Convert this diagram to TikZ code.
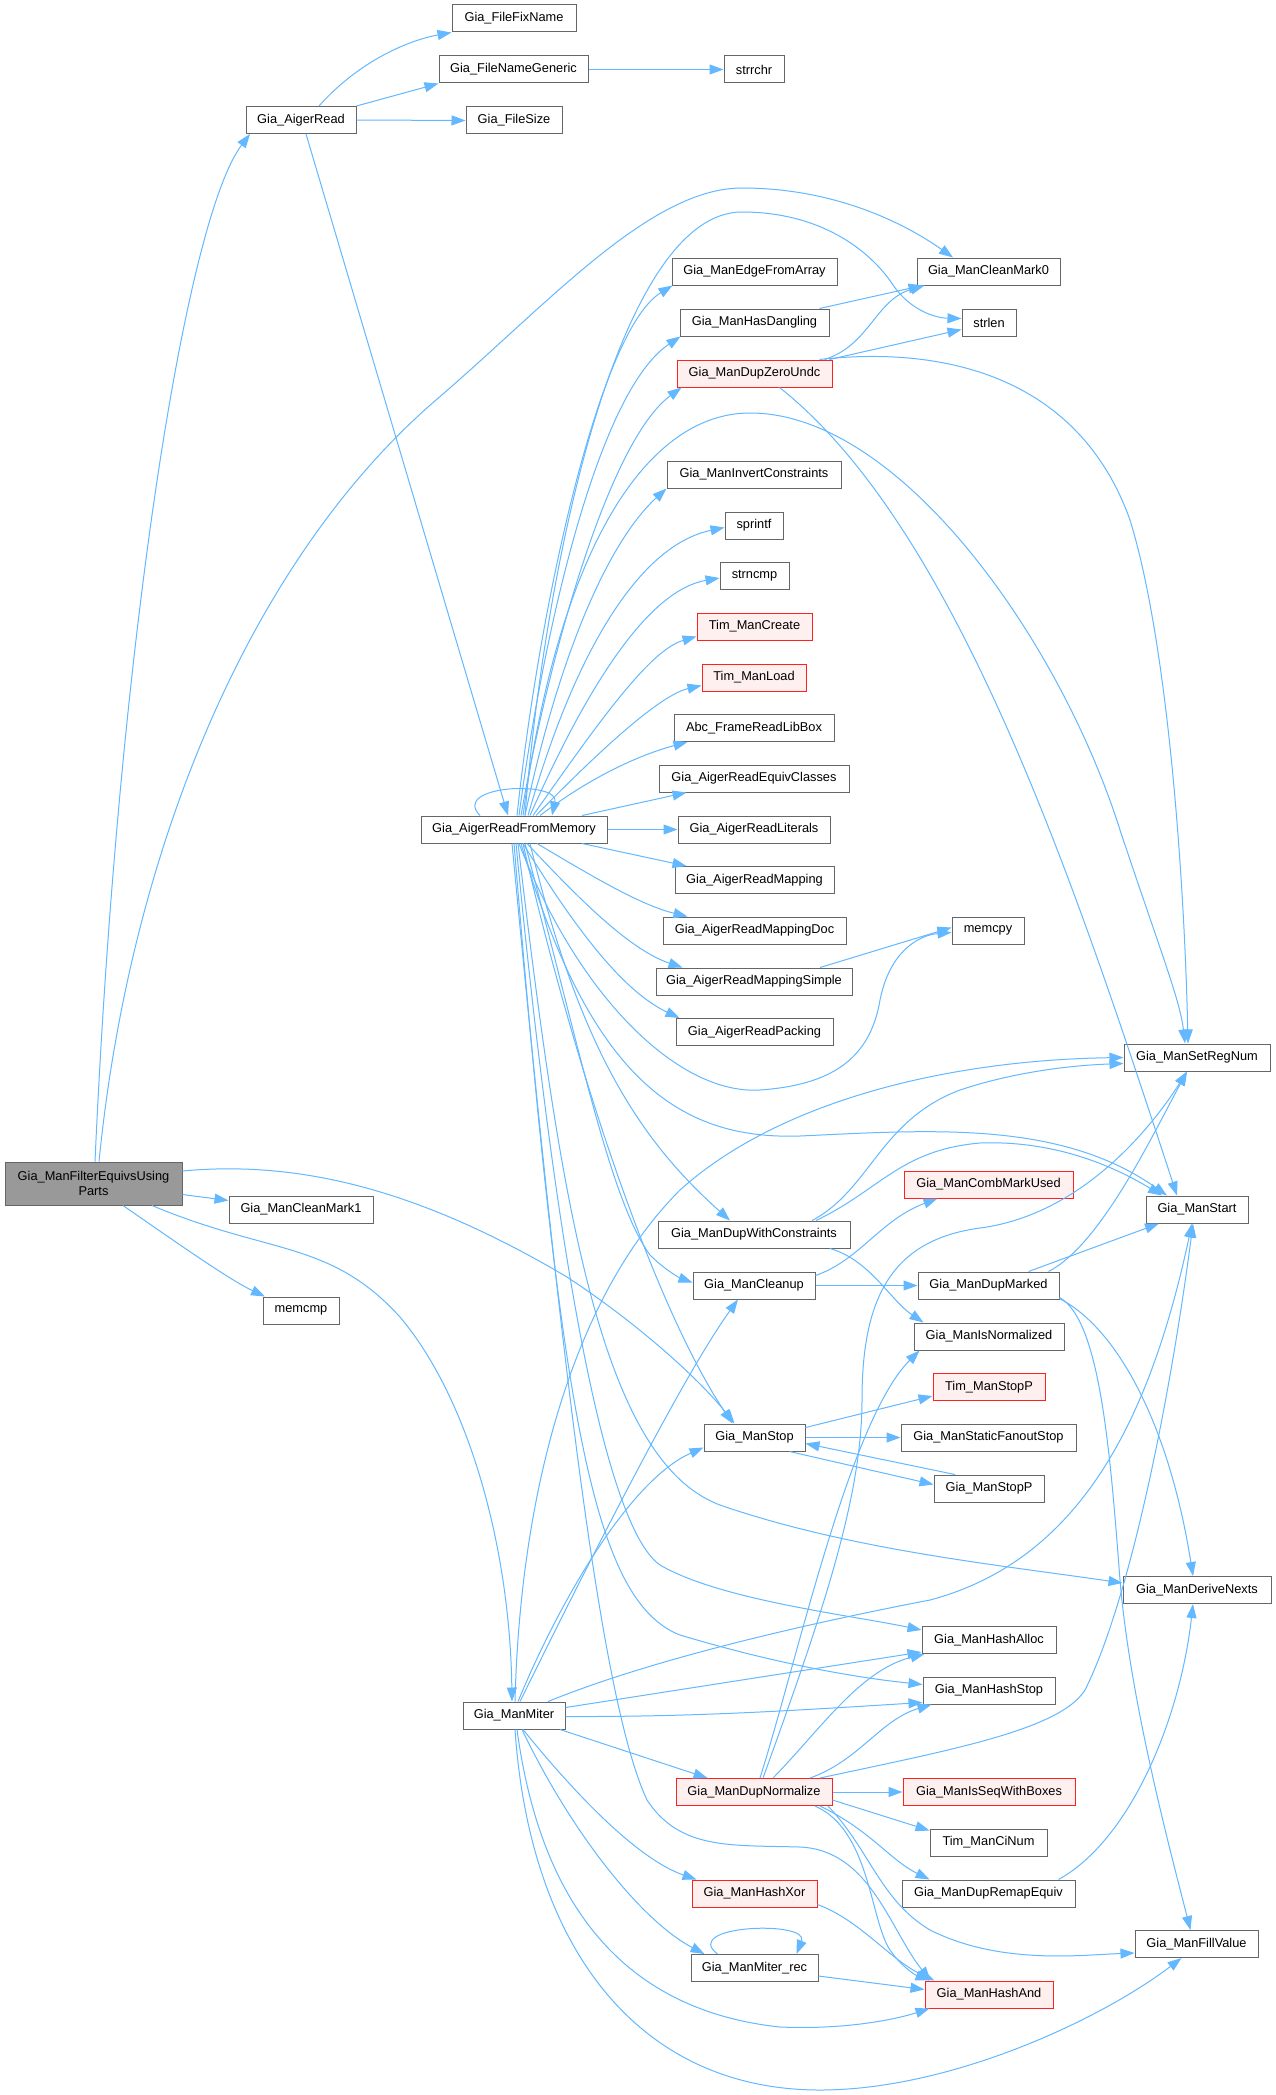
\documentclass[tikz,border=0pt]{standalone}
\usepackage{fontspec}
\setmainfont{Liberation Sans}
\usetikzlibrary{arrows.meta}
\definecolor{edgeblue}{HTML}{63B8FF}
\definecolor{boxgray}{HTML}{666666}
\definecolor{rootgray}{HTML}{999999}
\definecolor{redborder}{HTML}{FF2020}
\definecolor{redfill}{HTML}{FFF0F0}
\newcommand{\dfont}{\fontsize{12.8pt}{15pt}\selectfont}
\tikzset{
  box/.style={draw=boxgray, fill=white, line width=1pt, minimum height=27pt, inner sep=0pt, font=\dfont, text=black},
  redbox/.style={box, draw=redborder, fill=redfill},
  edge/.style={draw=edgeblue, line width=1pt, -{Triangle[length=14pt,width=10pt]}},
}
\begin{document}
\begin{tikzpicture}[x=1pt,y=-1pt]
\useasboundingbox[fill=white] (0,0) rectangle (1276,2095);
% nodes
\node[box, minimum width=177pt, minimum height=43pt, fill=rootgray, align=center] (root) at (93.5,1183.5) {Gia\_ManFilterEquivsUsing\\Parts};
\node[box, minimum width=110pt] (aigerread) at (301,120) {Gia\_AigerRead};
\node[box, minimum width=124pt] (ffn) at (514,18.5) {Gia\_FileFixName};
\node[box, minimum width=149pt] (fng) at (513.5,69.5) {Gia\_FileNameGeneric};
\node[box, minimum width=60pt] (strrchr) at (754,69.5) {strrchr};
\node[box, minimum width=96pt] (fsize) at (514,120.5) {Gia\_FileSize};
\node[box, minimum width=143pt] (cm0) at (988.5,271.5) {Gia\_ManCleanMark0};
\node[box, minimum width=54pt] (strlen) at (989,322.5) {strlen};
\node[box, minimum width=165pt] (efa) at (754.5,271.5) {Gia\_ManEdgeFromArray};
\node[box, minimum width=149pt] (hdang) at (754.5,322.5) {Gia\_ManHasDangling};
\node[redbox, minimum width=155pt] (dzu) at (754.5,373.5) {Gia\_ManDupZeroUndc};
\node[box, minimum width=174pt] (invc) at (754,474.5) {Gia\_ManInvertConstraints};
\node[box, minimum width=58pt] (sprintf) at (754,525.5) {sprintf};
\node[box, minimum width=69pt] (strncmp) at (754.5,576) {strncmp};
\node[redbox, minimum width=115pt] (tmc) at (754.5,626.5) {Tim\_ManCreate};
\node[redbox, minimum width=104pt] (tml) at (754,677.5) {Tim\_ManLoad};
\node[box, minimum width=160pt] (abc) at (754,728) {Abc\_FrameReadLibBox};
\node[box, minimum width=190pt] (rec) at (754,778.5) {Gia\_AigerReadEquivClasses};
\node[box, minimum width=186pt] (rfm) at (514,829.5) {Gia\_AigerReadFromMemory};
\node[box, minimum width=152pt] (rlit) at (754,829.5) {Gia\_AigerReadLiterals};
\node[box, minimum width=159pt] (rmap) at (754.5,880) {Gia\_AigerReadMapping};
\node[box, minimum width=183pt] (rmapd) at (754.5,930.5) {Gia\_AigerReadMappingDoc};
\node[box, minimum width=196pt] (rmaps) at (754,981.5) {Gia\_AigerReadMappingSimple};
\node[box, minimum width=157pt] (rpack) at (754.5,1032) {Gia\_AigerReadPacking};
\node[box, minimum width=72pt] (memcpy) at (988,930.5) {memcpy};
\node[box, minimum width=146pt] (setreg) at (1197,1057.5) {Gia\_ManSetRegNum};
\node[redbox, minimum width=169pt] (cmu) at (988.5,1184.5) {Gia\_ManCombMarkUsed};
\node[box, minimum width=102pt] (start) at (1197,1209.5) {Gia\_ManStart};
\node[box, minimum width=192pt] (dwc) at (754,1234.5) {Gia\_ManDupWithConstraints};
\node[box, minimum width=144pt] (cm1) at (301,1209.5) {Gia\_ManCleanMark1};
\node[box, minimum width=122pt] (cleanup) at (754,1285.5) {Gia\_ManCleanup};
\node[box, minimum width=141pt] (dupm) at (988.5,1285.5) {Gia\_ManDupMarked};
\node[box, minimum width=76pt] (memcmp) at (301,1310.5) {memcmp};
\node[box, minimum width=150pt] (isnorm) at (989,1336.5) {Gia\_ManIsNormalized};
\node[redbox, minimum width=112pt] (tmsp) at (989,1387) {Tim\_ManStopP};
\node[box, minimum width=101pt] (stop) at (754.5,1437.5) {Gia\_ManStop};
\node[box, minimum width=175pt] (sfs) at (988.5,1437.5) {Gia\_ManStaticFanoutStop};
\node[box, minimum width=110pt] (stopp) at (989,1488.5) {Gia\_ManStopP};
\node[box, minimum width=148pt] (dnext) at (1197,1590) {Gia\_ManDeriveNexts};
\node[box, minimum width=134pt] (halloc) at (989,1640) {Gia\_ManHashAlloc};
\node[box, minimum width=132pt] (hstop) at (989,1690.5) {Gia\_ManHashStop};
\node[box, minimum width=102pt] (miter) at (514,1715.5) {Gia\_ManMiter};
\node[redbox, minimum width=156pt] (dnorm) at (754,1792) {Gia\_ManDupNormalize};
\node[redbox, minimum width=172pt] (isseq) at (989,1792) {Gia\_ManIsSeqWithBoxes};
\node[box, minimum width=117pt] (cinum) at (988.5,1842.5) {Tim\_ManCiNum};
\node[redbox, minimum width=125pt] (hxor) at (754.5,1893.5) {Gia\_ManHashXor};
\node[box, minimum width=173pt] (remap) at (988.5,1893.5) {Gia\_ManDupRemapEquiv};
\node[box, minimum width=123pt] (fill) at (1196.5,1944) {Gia\_ManFillValue};
\node[box, minimum width=127pt] (mrec) at (754.5,1968) {Gia\_ManMiter\_rec};
\node[redbox, minimum width=128pt] (hand) at (989,1994.5) {Gia\_ManHashAnd};
% edges from root
\draw[edge] ([xshift=1.5pt]root.north) .. controls (118,650) and (185,220) .. ([xshift=-51pt]aigerread.south);
\draw[edge] ([xshift=5.5pt]root.north) .. controls (130,850) and (250,560) .. (436,400) .. controls (548,304) and (650,188) .. (742,188) .. controls (830,188) and (900,220) .. ([xshift=-35.5pt]cm0.north);
\draw[edge] ([yshift=-11pt]root.east) -- ([yshift=9pt]cm1.west);
\draw[edge] ([xshift=29.5pt]root.south) .. controls (180,1245) and (230,1280) .. ([xshift=-36pt]memcmp.north);
\draw[edge] ([yshift=12.5pt]root.east) .. controls (300,1160) and (420,1190) .. (567,1277) .. controls (640,1325) and (700,1380) .. ([xshift=-20pt]stop.north);
\draw[edge] ([xshift=58.5pt]root.south) .. controls (270,1255) and (330,1240) .. (400,1317) .. controls (470,1400) and (510,1550) .. ([xshift=-2pt]miter.north);
% Gia_AigerRead
\draw[edge] ([xshift=18pt]aigerread.north) .. controls (360,60) and (410,40) .. (ffn.south west);
\draw[edge] (aigerread.north east) -- (fng.south west);
\draw[edge] (aigerread.east) -- (fsize.west);
\draw[edge] ([xshift=5pt]aigerread.south) -- ([xshift=-6pt]rfm.north);
\draw[edge] (fng.east) -- (strrchr.west);
% Gia_AigerReadFromMemory
\draw[edge] ([xshift=-34pt]rfm.north) .. controls (450,785) and (560,780) .. ([xshift=38pt]rfm.north);
\draw[edge] ([xshift=3pt]rfm.north) .. controls (540,600) and (600,330) .. ([xshift=1pt]efa.south west);
\draw[edge] ([xshift=5pt]rfm.north) .. controls (545,620) and (600,390) .. ([xshift=1pt]hdang.south west);
\draw[edge] ([xshift=7pt]rfm.north) .. controls (550,650) and (610,440) .. ([xshift=5pt]dzu.south west);
\draw[edge] ([xshift=9pt]rfm.north) .. controls (560,540) and (650,413) .. (750,413) .. controls (900,413) and (1060,640) .. (1120,830) .. controls (1160,950) and (1180,1000) .. ([xshift=-12pt]setreg.north);
\draw[edge] ([xshift=11pt]rfm.north) .. controls (545,560) and (620,212) .. (742,212) .. controls (820,212) and (870,250) .. (893,285) .. controls (910,310) and (935,318) .. ([yshift=4pt]strlen.west);
\draw[edge] ([xshift=11pt]rfm.north) .. controls (560,650) and (610,540) .. (invc.south west);
\draw[edge] ([xshift=14pt]rfm.north) .. controls (575,650) and (640,545) .. ([yshift=-2pt]sprintf.west);
\draw[edge] ([xshift=16pt]rfm.north) .. controls (590,680) and (650,590) .. ([yshift=-2pt]strncmp.west);
\draw[edge] ([xshift=19pt]rfm.north) .. controls (600,720) and (650,650) .. ([yshift=-10pt]tmc.west);
\draw[edge] ([xshift=22pt]rfm.north) .. controls (600,750) and (660,695) .. ([yshift=-8pt]tml.west);
\draw[edge] ([xshift=26pt]rfm.north) .. controls (600,770) and (650,752) .. ([xshift=14pt]abc.south west);
\draw[edge] ([xshift=68pt]rfm.north) -- ([xshift=28pt]rec.south west);
\draw[edge] (rfm.east) -- (rlit.west);
\draw[edge] ([xshift=68pt]rfm.south) -- ([xshift=12pt]rmap.north west);
\draw[edge] ([xshift=23pt]rfm.south) .. controls (590,875) and (640,905) .. ([xshift=25pt]rmapd.north west);
\draw[edge] ([xshift=13pt]rfm.south) .. controls (580,900) and (630,950) .. ([xshift=27pt]rmaps.north west);
\draw[edge] ([xshift=9pt]rfm.south) .. controls (570,920) and (620,990) .. ([xshift=4pt]rpack.north west);
\draw[edge] ([xshift=5pt]rfm.south) .. controls (580,1000) and (680,1095) .. (760,1090) .. controls (830,1085) and (870,1060) .. (880,1000) .. controls (890,950) and (920,935) .. ([yshift=-2pt]memcpy.west);
\draw[edge] ([xshift=66pt]rmaps.north) -- ([yshift=3pt]memcpy.west);
\draw[edge] ([xshift=7pt]rfm.south) .. controls (590,1080) and (680,1140) .. (800,1136) .. controls (930,1130) and (1060,1120) .. ([xshift=-30pt]start.north);
\draw[edge] ([xshift=16pt]rfm.south) .. controls (580,1050) and (640,1140) .. ([xshift=-24pt]dwc.north);
\draw[edge] ([xshift=11pt]rfm.south) .. controls (580,1050) and (610,1200) .. (650,1255) .. controls (665,1270) and (680,1278) .. ([yshift=3pt]cleanup.west);
\draw[edge] ([xshift=9pt]rfm.south) .. controls (570,1050) and (650,1300) .. ([xshift=-22pt]stop.north);
\draw[edge] ([xshift=4pt]rfm.south) .. controls (560,1200) and (600,1460) .. (720,1505) .. controls (850,1550) and (1000,1565) .. ([yshift=7pt]dnext.west);
\draw[edge] ([xshift=2pt]rfm.south) .. controls (560,1300) and (610,1530) .. (660,1565) .. controls (720,1600) and (850,1615) .. ([yshift=10pt]halloc.west);
\draw[edge] (rfm.south) .. controls (560,1400) and (590,1600) .. (680,1635) .. controls (780,1665) and (860,1678) .. ([yshift=6pt]hstop.west);
\draw[edge] ([xshift=-2pt]rfm.south) .. controls (560,1350) and (600,1700) .. (647,1800) .. controls (680,1850) and (730,1845) .. (800,1847) .. controls (870,1850) and (890,1930) .. ([xshift=6pt]hand.north west);
% Gia_ManDupZeroUndc, Gia_ManHasDangling
\draw[edge] ([xshift=65pt]dzu.north) .. controls (950,345) and (1080,380) .. (1130,520) .. controls (1170,650) and (1185,900) .. ([xshift=-9pt]setreg.north);
\draw[edge] ([xshift=70pt]dzu.north) .. controls (870,345) and (875,300) .. ([xshift=8pt]cm0.south west);
\draw[edge] ([xshift=75pt]dzu.north) -- ([yshift=-7pt]strlen.west);
\draw[edge] ([xshift=25pt]dzu.south) .. controls (960,530) and (1080,900) .. ([xshift=-20pt]start.north);
\draw[edge] ([xshift=65pt]hdang.north) -- ([xshift=6pt]cm0.south west);
% Gia_ManMiter
\draw[edge] ([xshift=1pt]miter.north) .. controls (520,1500) and (570,1300) .. (680,1190) .. controls (780,1100) and (950,1060) .. (setreg.west);
\draw[edge] ([xshift=6pt]miter.north) .. controls (580,1580) and (680,1380) .. ([xshift=-16pt]cleanup.south);
\draw[edge] ([xshift=4pt]miter.north) .. controls (560,1600) and (630,1480) .. ([yshift=-10pt]stop.west);
\draw[edge] ([xshift=34pt]miter.north) .. controls (650,1660) and (800,1625) .. (930,1600) .. controls (1080,1560) and (1150,1420) .. ([xshift=-5pt]start.south);
\draw[edge] ([yshift=8pt]miter.east) -- ([yshift=-12pt]halloc.west);
\draw[edge] ([yshift=-1pt]miter.east) .. controls (700,1717) and (800,1710) .. ([yshift=-12pt]hstop.west);
\draw[edge] ([xshift=46pt]miter.south) -- ([xshift=32pt]dnorm.north west);
\draw[edge] ([xshift=9pt]miter.south) .. controls (580,1800) and (640,1860) .. ([xshift=5pt]hxor.north west);
\draw[edge] ([xshift=8pt]miter.south) .. controls (570,1830) and (640,1920) .. ([xshift=14pt]mrec.north west);
\draw[edge] ([xshift=3pt]miter.south) .. controls (540,1900) and (620,2010) .. (780,2027) .. controls (850,2030) and (900,2018) .. ([xshift=5pt]hand.south west);
\draw[edge] ([xshift=1pt]miter.south) .. controls (530,1950) and (640,2090) .. (820,2090) .. controls (950,2090) and (1100,2020) .. ([xshift=-15pt]fill.south);
% Gia_ManDupWithConstraints, Gia_ManCleanup, Gia_ManDupMarked
\draw[edge] ([xshift=58pt]dwc.north) .. controls (870,1190) and (880,1120) .. (960,1090) .. controls (1020,1070) and (1080,1065) .. ([yshift=-6pt]setreg.west);
\draw[edge] ([xshift=62pt]dwc.north) .. controls (880,1190) and (900,1150) .. (980,1143) .. controls (1060,1140) and (1120,1170) .. ([xshift=-35pt]start.north);
\draw[edge] ([xshift=76pt]dwc.south) .. controls (870,1260) and (890,1300) .. ([xshift=10pt]isnorm.north west);
\draw[edge] ([yshift=10pt]cleanup.east) .. controls (860,1260) and (880,1220) .. ([xshift=34pt]cmu.south west);
\draw[edge] (cleanup.east) -- (dupm.west);
\draw[edge] ([xshift=60pt]dupm.north) .. controls (1100,1245) and (1150,1140) .. ([xshift=-10pt]setreg.south);
\draw[edge] ([xshift=40pt]dupm.north) -- ([xshift=-38pt]start.south);
\draw[edge] ([yshift=-13pt]dupm.east) .. controls (1120,1330) and (1170,1430) .. ([xshift=-4pt]dnext.north);
\draw[edge] ([yshift=-12pt]dupm.east) .. controls (1100,1320) and (1110,1450) .. (1120,1580) .. controls (1130,1700) and (1170,1850) .. ([xshift=-6pt]fill.north);
% Gia_ManStop
\draw[edge] ([yshift=10pt]stop.east) -- ([yshift=-9pt]tmsp.west);
\draw[edge] (stop.east) -- (sfs.west);
\draw[edge] ([xshift=35pt]stop.south) -- ([yshift=4pt]stopp.west);
\draw[edge] ([xshift=-34pt]stopp.north) -- ([yshift=-6pt]stop.east);
% Gia_ManDupNormalize
\draw[edge] ([xshift=6pt]dnorm.north) .. controls (800,1650) and (850,1420) .. ([xshift=6pt]isnorm.south west);
\draw[edge] ([xshift=9pt]dnorm.north) .. controls (820,1620) and (862,1500) .. (862,1400) .. controls (862,1300) and (890,1240) .. (980,1228) .. controls (1080,1215) and (1150,1130) .. ([xshift=-10pt]setreg.south);
\draw[edge] ([xshift=19pt]dnorm.north) .. controls (820,1730) and (860,1670) .. ([xshift=3pt]halloc.south west);
\draw[edge] ([xshift=56pt]dnorm.north) .. controls (860,1760) and (880,1720) .. ([xshift=9pt]hstop.south west);
\draw[edge] ([xshift=66pt]dnorm.north) .. controls (950,1750) and (1060,1730) .. (1085,1690) .. controls (1130,1600) and (1170,1400) .. ([xshift=-4pt]start.south);
\draw[edge] (dnorm.east) -- (isseq.west);
\draw[edge] ([yshift=-8pt]dnorm.east) -- ([yshift=12pt]cinum.west);
\draw[edge] ([xshift=66pt]dnorm.south) .. controls (870,1830) and (890,1860) .. ([xshift=28pt]remap.north west);
\draw[edge] ([xshift=74pt]dnorm.south) .. controls (870,1850) and (880,1900) .. (930,1930) .. controls (1000,1965) and (1080,1955) .. ([yshift=-9pt]fill.west);
\draw[edge] ([xshift=61pt]dnorm.south) .. controls (870,1830) and (870,1920) .. (890,1950) .. controls (900,1965) and (915,1975) .. ([xshift=5pt]hand.north west);
% remaining
\draw[edge] ([yshift=-11pt]hxor.east) .. controls (860,1920) and (890,1960) .. ([xshift=10pt]hand.north west);
\draw[edge] ([yshift=-8pt]mrec.east) -- ([yshift=5pt]hand.west);
\draw[edge] ([xshift=-37pt]mrec.north) .. controls (680,1925) and (810,1920) .. ([xshift=42pt]mrec.north);
\draw[edge] ([xshift=70pt]remap.north) .. controls (1130,1840) and (1180,1720) .. ([xshift=-4pt]dnext.south);
\end{tikzpicture}
\end{document}
